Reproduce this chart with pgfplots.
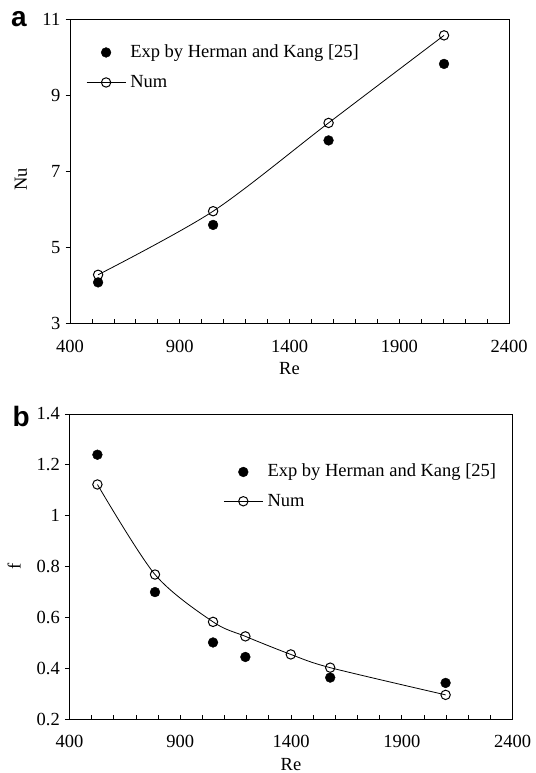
\documentclass[border=0pt]{standalone}
\usepackage{pgfplots}
\pgfplotsset{compat=1.18}
\usepackage{fontspec}
\setmainfont{Liberation Serif}
\newfontfamily\panelfont{Liberation Sans}
\pgfplotsset{
  myaxis/.style={
    scale only axis, anchor=south west,
    font=\fontsize{18.5}{22}\selectfont,
    xmin=400, xmax=2400,
    xtick={400,900,1400,1900,2400},
    minor x tick num=4,
    xtick pos=bottom, ytick pos=left,
    xtick align=inside, ytick align=outside,
    major tick length=4.5pt, minor tick length=4pt,
    every tick/.style={black, line width=0.8pt},
    axis line style={line width=0.9pt},
    /pgf/number format/assume math mode=true,
    /pgf/number format/1000 sep={},
    xticklabel style={anchor=center, inner sep=0pt, yshift=-22.5pt},
    yticklabel style={anchor=east, inner sep=0pt, xshift=-5pt},
    xlabel style={at={(axis description cs:0.5,0)}, anchor=center, inner sep=0pt, yshift=-45pt},
    legend cell align=left,
    legend style={draw=none, fill=none, inner sep=0pt, anchor=north west,
      column sep=4.3pt,
      nodes={inner sep=0pt, text height=13pt, text depth=3pt}},
  },
  myimg/.style={legend image code/.code={\draw[mark repeat=2,mark phase=2,##1] plot coordinates {(0pt,0pt)(19.5pt,0pt)(39pt,0pt)};}},
  expstyle/.style={only marks, mark=*, mark size=4.9pt, mark options={fill=black, draw=black}, myimg},
  numstyle/.style={black, line width=0.8pt, smooth, mark=o, mark size=4.7pt, mark options={fill=white, draw=black, line width=1pt}, myimg},
}
\begin{document}
\begin{tikzpicture}
\useasboundingbox (0pt,0pt) rectangle (535pt,773pt);
% panel a
\begin{axis}[myaxis, at={(70pt,449.5pt)}, width=439pt, height=304.5pt,
  ymin=3, ymax=11, ytick={3,5,7,9,11},
  xlabel={Re}, ylabel={Nu},
  ylabel style={at={(axis description cs:-0.112,0.474)}, anchor=center},
  legend style={at={(axis description cs:0.0364,0.917)}, row sep=14pt}]
\addplot[expstyle] coordinates {(528,4.08) (1052,5.59) (1578,7.81) (2104,9.82)};
\addlegendentry{Exp by Herman and Kang [25]}
\addplot[numstyle] coordinates {(528,4.28) (1052,5.95) (1578,8.27) (2104,10.57)};
\addlegendentry{Num}
\end{axis}
% panel b
\begin{axis}[myaxis, at={(69.5pt,53.7pt)}, width=443pt, height=305.3pt,
  ymin=0.2, ymax=1.4, ytick={0.2,0.4,0.6,0.8,1,1.2,1.4},
  yticklabel style={/pgf/number format/.cd, fixed, precision=1},
  xlabel={Re}, ylabel={f},
  ylabel style={at={(axis description cs:-0.125,0.5)}, anchor=center},
  legend style={at={(axis description cs:0.347,0.837)}, row sep=13.3pt}]
\addplot[expstyle] coordinates {(526,1.240) (786,0.700) (1048,0.502) (1194,0.445) (1577,0.364) (2098,0.343)};
\addlegendentry{Exp by Herman and Kang [25]}
\addplot[numstyle] coordinates {(526,1.123) (786,0.769) (1048,0.583) (1194,0.526) (1399,0.455) (1577,0.403) (2098,0.296)};
\addlegendentry{Num}
\end{axis}
\node[font=\panelfont\bfseries\fontsize{28}{30}\selectfont, inner sep=0pt] at (18.8pt,754pt) {a};
\node[font=\panelfont\bfseries\fontsize{28}{30}\selectfont, inner sep=0pt] at (21.3pt,356.8pt) {b};
\end{tikzpicture}
\end{document}
